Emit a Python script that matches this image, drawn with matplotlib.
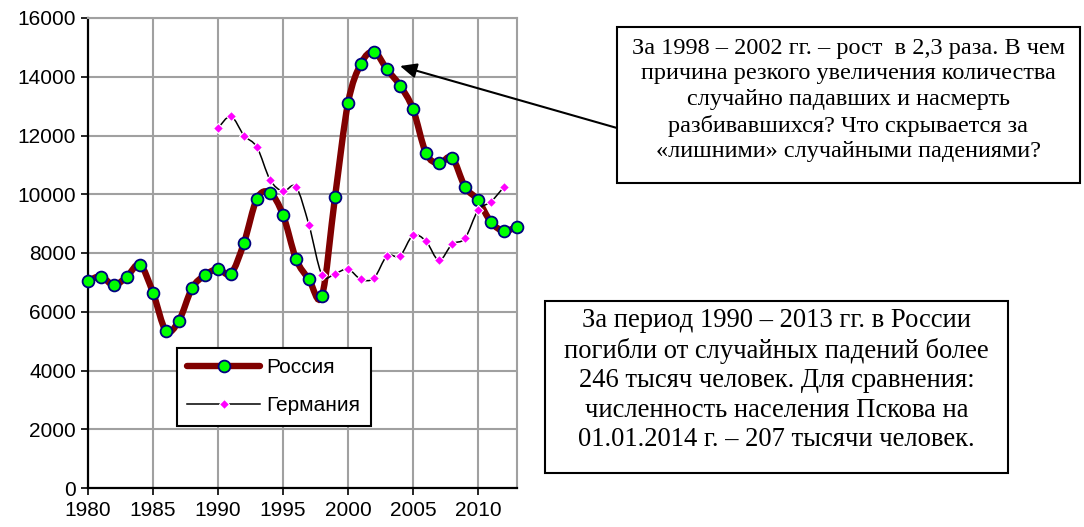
import numpy as np
import matplotlib
matplotlib.use("Agg")
import matplotlib.pyplot as plt
from matplotlib.path import Path
from matplotlib.patches import PathPatch, Rectangle
from matplotlib.lines import Line2D

years_russia = list(range(1980, 2014))
russia = [7050, 7200, 6900, 7200, 7600, 6650, 5350, 5700, 6800, 7250,
          7450, 7300, 8350, 9850, 10050, 9300, 7800, 7100, 6550, 9900,
          13100, 14450, 14850, 14250, 13700, 12900, 11400, 11050, 11250, 10250,
          9800, 9050, 8750, 8900]
years_germany = list(range(1990, 2013))
germany = [12250, 12650, 12000, 11600, 10500, 10100, 10250, 8950, 7250, 7300,
           7450, 7100, 7150, 7900, 7900, 8600, 8400, 7750, 8300, 8500,
           9450, 9750, 10250]
xticks = [1980, 1985, 1990, 1995, 2000, 2005, 2010]
yticks = [0, 2000, 4000, 6000, 8000, 10000, 12000, 14000, 16000]
labels = ["Россия", "Германия"]
note1 = ("За 1998 – 2002 гг. – рост  в 2,3 раза. В чем\n"
         "причина резкого увеличения количества\n"
         "случайно падавших и насмерть\n"
         "разбивавшихся? Что скрывается за\n"
         "«лишними» случайными падениями?")
note2 = ("За период 1990 – 2013 гг. в России\n"
         "погибли от случайных падений более\n"
         "246 тысяч человек. Для сравнения:\n"
         "численность населения Пскова на\n"
         "01.01.2014 г. – 207 тысячи человек.")

W, H = 1084, 527
plt.rcParams['font.family'] = ['Liberation Sans', 'DejaVu Sans']
fig = plt.figure(figsize=(W / 100, H / 100), dpi=100)

def fx(px):
    return px / W

def fy(py):
    return 1 - py / H

ax = fig.add_axes([fx(88), fy(488), fx(517) - fx(88), fy(18) - fy(488)])
ax.set_xlim(1980, 2013)
ax.set_ylim(0, 16000)


def smooth_path(x, y):
    p = np.column_stack([x, y]).astype(float)
    n = len(p)
    verts = [p[0]]
    codes = [Path.MOVETO]
    for i in range(n - 1):
        p0 = p[i - 1] if i > 0 else p[i]
        p1 = p[i]
        p2 = p[i + 1]
        p3 = p[i + 2] if i + 2 < n else p[i + 1]
        c1 = p1 + (p2 - p0) / 6.0
        c2 = p2 - (p3 - p1) / 6.0
        verts += [c1, c2, p2]
        codes += [Path.CURVE4] * 3
    return Path(verts, codes)

grid_c = '#a0a0a0'
for xt in xticks[1:]:
    ax.axvline(xt, color=grid_c, lw=1.5, zorder=0)
for yt in yticks[1:]:
    ax.axhline(yt, color=grid_c, lw=1.5, zorder=0)

rus_col = '#800000'
ax.add_patch(PathPatch(smooth_path(years_russia, russia), fill=False,
                       edgecolor=rus_col, lw=4.6, zorder=2, capstyle='round'))
ax.plot(years_russia, russia, ls='none', marker='o', ms=8.5,
        mfc='#00ff00', mec='#000080', mew=1.3, zorder=3, clip_on=False)

ax.add_patch(PathPatch(smooth_path(years_germany, germany), fill=False,
                       edgecolor='black', lw=1.1, zorder=4))
ax.plot(years_germany, germany, ls='none', marker='D', ms=5.5,
        mfc='#ff00ff', mec='white', mew=0.8, zorder=5)

ax.set_xticks(xticks)
ax.set_yticks(yticks)
ax.tick_params(direction='out', length=5, width=1.2, labelsize=15, colors='black')
ax.tick_params(axis='x', pad=4)
for s in ['top', 'right']:
    ax.spines[s].set_color(grid_c)
    ax.spines[s].set_linewidth(1.5)
for s in ['left', 'bottom']:
    ax.spines[s].set_color('black')
    ax.spines[s].set_linewidth(1.6)

handles = [Line2D([], [], color=rus_col, lw=4.6, marker='o', ms=8.5,
                  mfc='#00ff00', mec='#000080', mew=1.3, solid_capstyle='round'),
           Line2D([], [], color='black', lw=1.1, marker='D', ms=5.5,
                  mfc='#ff00ff', mec='white', mew=0.8)]
leg = fig.legend(handles, labels, loc='upper left',
                 bbox_to_anchor=(fx(177), fy(348)), fontsize=15,
                 frameon=True, fancybox=False, framealpha=1,
                 edgecolor='black', handlelength=3.5, handletextpad=0.3,
                 labelspacing=0.9, borderpad=0.5, borderaxespad=0)
leg.get_frame().set_linewidth(1.5)

# annotation boxes
serif = ['Liberation Serif', 'DejaVu Serif']
fig.patches.append(Rectangle((fx(617), fy(183)), fx(1080) - fx(617), fy(27) - fy(183),
                             transform=fig.transFigure, fill=True, facecolor='white',
                             edgecolor='black', lw=1.5, zorder=5))
fig.text(fx(848.5), fy(100), note1, ha='center', va='center', fontsize=17.5,
         family=serif, linespacing=1.29, zorder=6)
fig.patches.append(Rectangle((fx(545), fy(473)), fx(1008) - fx(545), fy(301) - fy(473),
                             transform=fig.transFigure, fill=True, facecolor='white',
                             edgecolor='black', lw=1.5, zorder=5))
fig.text(fx(776.5), fy(380), note2, ha='center', va='center', fontsize=19.2,
         family=serif, linespacing=1.24, zorder=6)

ax.annotate('', xy=(fx(400), fy(66)), xycoords='figure fraction',
            xytext=(fx(617), fy(128)), textcoords='figure fraction',
            arrowprops=dict(arrowstyle='-|>,head_length=1.0,head_width=0.45',
                            color='black', lw=1.5, shrinkA=0, shrinkB=0),
            annotation_clip=False)

fig.savefig('out.png', dpi=100)
